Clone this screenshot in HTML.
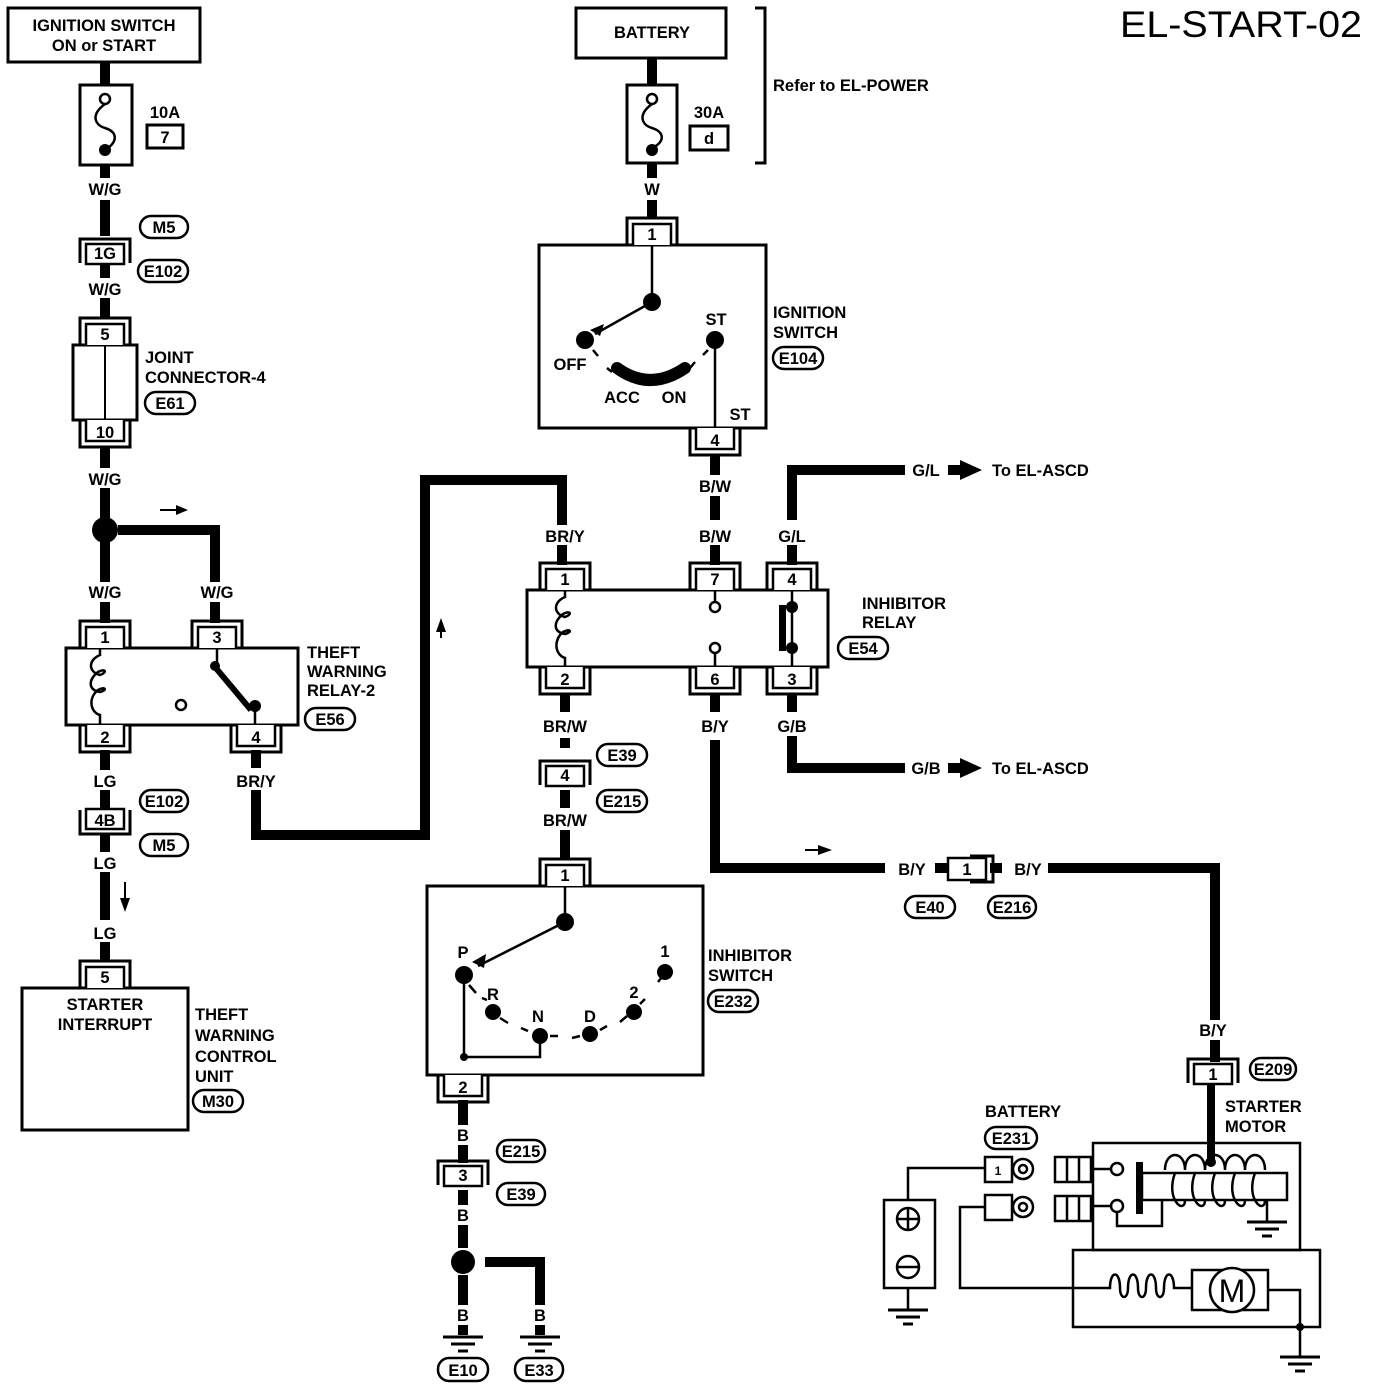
<!DOCTYPE html>
<html><head><meta charset="utf-8"><style>
html,body{margin:0;padding:0;background:#fff}
svg{display:block}
text{font-family:"Liberation Sans",Arial,sans-serif;font-size:16.5px;font-weight:bold;fill:#000}
.c{text-anchor:middle}
</style></head><body>
<svg width="1376" height="1390" viewBox="0 0 1376 1390" xmlns="http://www.w3.org/2000/svg">
<defs>
<g id="ct"><path d="M-25,0 V-27 H25 V0" fill="none" stroke="#000" stroke-width="3"/><path d="M-19,0 V-21 H19 V0" fill="#fff" stroke="#000" stroke-width="2.5"/></g>
<g id="cb"><path d="M-25,0 V27 H25 V0" fill="none" stroke="#000" stroke-width="3"/><path d="M-19,0 V21 H19 V0" fill="#fff" stroke="#000" stroke-width="2.5"/></g>
<g id="cf"><path d="M-25,10 V-14 H25 V10" fill="none" stroke="#000" stroke-width="3"/><rect x="-19" y="-9" width="38" height="20" fill="#fff" stroke="#000" stroke-width="2.5"/></g>
<g id="gnd"><path d="M-20,0 H20 M-12,7 H12 M-5,14 H5" stroke="#000" stroke-width="3"/></g>
</defs>
<text x="1120" y="37" style="font-size:37px;font-weight:normal" textLength="242" lengthAdjust="spacingAndGlyphs">EL-START-02</text>

<g fill="none" stroke="#000" stroke-width="3">
<rect x="8" y="8" width="192" height="54"/>
<rect x="80" y="85" width="52" height="80"/>
<rect x="147" y="125" width="36" height="23"/>
<rect x="73" y="345" width="64" height="75"/>
<line x1="105" y1="345" x2="105" y2="420" stroke-width="2"/>
<rect x="66" y="648" width="232" height="77"/>
<rect x="22" y="988" width="166" height="142"/>
</g>
<text x="104" y="31" class="c">IGNITION SWITCH</text>
<text x="104" y="51" class="c">ON or START</text>
<g stroke="#000" stroke-width="10" fill="none">
<path d="M105,62 V85 M105,165 V178 M105,200 V236 M105,264 V278 M105,298 V318 M105,446 V468 M105,488 V520 M105,540 V582 M105,602 V623"/>
<path d="M118,530 H215 V582 M215,602 V623"/>
<path d="M105,750 V770 M105,790 V808 M105,834 V852 M105,872 V920 M105,942 V962"/>
<path d="M256,750 V768 M256,790 V835 H425 V480 H562 V525 M562,545 V565"/>
</g>
<circle cx="105" cy="530" r="13"/>
<g fill="none" stroke="#000" stroke-width="2.5"><circle cx="105" cy="99" r="5"/><path d="M105,104 C90,115 95,125 105,128 C118,132 118,142 105,150"/></g>
<circle cx="105" cy="150" r="6"/>
<text x="165" y="118" class="c">10A</text>
<text x="165" y="143" class="c">7</text>
<text x="105" y="195" class="c">W/G</text>
<rect x="140" y="216" width="48" height="22" rx="11" fill="#fff" stroke="#000" stroke-width="2.5"/><text x="164" y="233" class="c">M5</text>
<use href="#cf" x="105" y="253"/><text x="105" y="259" class="c">1G</text>
<rect x="138" y="260" width="50" height="22" rx="11" fill="#fff" stroke="#000" stroke-width="2.5"/><text x="163" y="277" class="c">E102</text>
<text x="105" y="295" class="c">W/G</text>
<use href="#ct" x="105" y="345"/><text x="105" y="340" class="c">5</text>
<use href="#cb" x="105" y="420"/><text x="105" y="438" class="c">10</text>
<text x="145" y="363">JOINT</text><text x="145" y="383">CONNECTOR-4</text>
<rect x="145" y="392" width="50" height="22" rx="11" fill="#fff" stroke="#000" stroke-width="2.5"/><text x="170" y="409" class="c">E61</text>
<text x="105" y="485" class="c">W/G</text>
<path d="M160,510 H178" stroke="#000" stroke-width="2"/><path d="M176,505 L188,510 L176,515 Z"/>
<text x="105" y="598" class="c">W/G</text><text x="217" y="598" class="c">W/G</text>
<use href="#ct" x="105" y="648"/><text x="105" y="643" class="c">1</text>
<use href="#ct" x="217" y="648"/><text x="217" y="643" class="c">3</text>
<use href="#cb" x="105" y="725"/><text x="105" y="743" class="c">2</text>
<use href="#cb" x="256" y="725"/><text x="256" y="743" class="c">4</text>
<g fill="none" stroke="#000" stroke-width="2.5">
<path d="M100,648 V655 C88,660 88,672 100,675 C108,672 105,668 98,672 C88,680 88,690 100,692 C108,690 105,686 98,690 C88,698 90,712 100,715 V725"/>
<circle cx="181" cy="705" r="5"/>
<path d="M217,648 V666"/><path d="M255,705 V725"/>
</g>
<path d="M215,667 L251,710" stroke="#000" stroke-width="6"/>
<circle cx="215" cy="666" r="5"/><circle cx="255" cy="706" r="6"/>
<text x="307" y="658">THEFT</text><text x="307" y="677">WARNING</text><text x="307" y="696">RELAY-2</text>
<rect x="305" y="708" width="50" height="22" rx="11" fill="#fff" stroke="#000" stroke-width="2.5"/><text x="330" y="725" class="c">E56</text>
<text x="105" y="787" class="c">LG</text><text x="256" y="787" class="c">BR/Y</text>
<rect x="140" y="790" width="48" height="22" rx="11" fill="#fff" stroke="#000" stroke-width="2.5"/><text x="164" y="807" class="c">E102</text>
<g transform="translate(105,820) scale(1,-1)"><use href="#cf"/></g><text x="105" y="826" class="c">4B</text>
<rect x="140" y="834" width="48" height="22" rx="11" fill="#fff" stroke="#000" stroke-width="2.5"/><text x="164" y="851" class="c">M5</text>
<text x="105" y="869" class="c">LG</text>
<path d="M125,882 V900" stroke="#000" stroke-width="2"/><path d="M120,898 L125,912 L130,898 Z"/>
<text x="105" y="939" class="c">LG</text>
<use href="#ct" x="105" y="988"/><text x="105" y="983" class="c">5</text>
<text x="105" y="1010" class="c">STARTER</text><text x="105" y="1030" class="c">INTERRUPT</text>
<text x="195" y="1020">THEFT</text><text x="195" y="1041">WARNING</text><text x="195" y="1062">CONTROL</text><text x="195" y="1082">UNIT</text>
<rect x="193" y="1090" width="50" height="22" rx="11" fill="#fff" stroke="#000" stroke-width="2.5"/><text x="218" y="1107" class="c">M30</text>
<path d="M441,622 V638" stroke="#000" stroke-width="2"/><path d="M436,632 L441,618 L446,632 Z"/>

<g fill="none" stroke="#000" stroke-width="3">
<rect x="576" y="8" width="150" height="50"/>
<rect x="627" y="85" width="50" height="78"/>
<rect x="690" y="126" width="38" height="24"/>
<path d="M755,8 H765 V163 H755"/>
<rect x="539" y="245" width="227" height="183"/>
<rect x="527" y="590" width="301" height="77"/>
<rect x="427" y="886" width="276" height="189"/>
</g>
<text x="652" y="38" class="c">BATTERY</text>
<g stroke="#000" stroke-width="10" fill="none">
<path d="M652,58 V85 M652,163 V178 M652,200 V218"/>
<path d="M715,454 V475 M715,496 V520 M715,545 V565"/>
<path d="M792,565 V545 M792,520 V470 H905 M948,470 H960"/>
<path d="M565,694 V712 M565,738 V748 M565,790 V808 M565,830 V858"/>
<path d="M715,694 V712 M715,740 V868 H885 M935,868 H948 M990,868 H1002 M1048,868 H1215 V1020 M1215,1040 V1062"/>
<path d="M792,694 V712 M792,736 V768 H905 M948,768 H960"/>
<path d="M463,1100 V1125 M463,1145 V1163 M463,1190 V1205 M463,1225 V1248 M463,1275 V1305 M463,1325 V1335 M485,1262 H540 V1305 M540,1325 V1335"/>
</g>
<circle cx="463" cy="1262" r="12"/>
<path d="M960,460 L982,470 L960,480 Z"/><path d="M960,758 L982,768 L960,778 Z"/>
<g fill="none" stroke="#000" stroke-width="2.5"><circle cx="652" cy="99" r="5"/><path d="M652,104 C637,115 642,125 652,128 C665,132 665,142 652,148"/></g>
<circle cx="652" cy="150" r="6"/>
<text x="709" y="118" class="c">30A</text><text x="709" y="144" class="c">d</text>
<text x="773" y="91">Refer to EL-POWER</text>
<text x="652" y="195" class="c">W</text>
<use href="#ct" x="652" y="245"/><text x="652" y="240" class="c">1</text>
<g fill="none" stroke="#000" stroke-width="2.5">
<path d="M652,245 V300"/><path d="M652,302 L595,334"/>
<path d="M715,340 V428"/>
<path d="M593,350 L598,356 M607,368 L612,372 M690,368 L695,362 M703,355 L708,350"/>
</g>
<path d="M590,330 L604,324 L600,336 Z"/>
<circle cx="652" cy="302" r="9"/><circle cx="585" cy="340" r="9"/><circle cx="715" cy="340" r="9"/>
<path d="M617,368 Q650,392 685,368" fill="none" stroke="#000" stroke-width="12" stroke-linecap="round"/>
<text x="570" y="370" class="c">OFF</text><text x="622" y="403" class="c">ACC</text><text x="674" y="403" class="c">ON</text>
<text x="716" y="325" class="c">ST</text><text x="740" y="420" class="c">ST</text>
<text x="773" y="318">IGNITION</text><text x="773" y="338">SWITCH</text>
<rect x="773" y="347" width="50" height="22" rx="11" fill="#fff" stroke="#000" stroke-width="2.5"/><text x="798" y="364" class="c">E104</text>
<use href="#cb" x="715" y="428"/><text x="715" y="446" class="c">4</text>
<text x="715" y="492" class="c">B/W</text><text x="715" y="542" class="c">B/W</text>
<text x="565" y="542" class="c">BR/Y</text><text x="792" y="542" class="c">G/L</text>
<text x="926" y="476" class="c">G/L</text><text x="992" y="476">To EL-ASCD</text>
<use href="#ct" x="565" y="590"/><text x="565" y="585" class="c">1</text>
<use href="#ct" x="715" y="590"/><text x="715" y="585" class="c">7</text>
<use href="#ct" x="792" y="590"/><text x="792" y="585" class="c">4</text>
<use href="#cb" x="565" y="667"/><text x="565" y="685" class="c">2</text>
<use href="#cb" x="715" y="667"/><text x="715" y="685" class="c">6</text>
<use href="#cb" x="792" y="667"/><text x="792" y="685" class="c">3</text>
<g fill="none" stroke="#000" stroke-width="2.5">
<path d="M565,590 V597 C553,602 553,614 565,617 C573,614 570,610 563,614 C553,622 553,632 565,634 C573,632 570,628 563,632 C553,640 555,655 565,658 V667"/>
<path d="M715,590 V602 M715,653 V667"/><circle cx="715" cy="607" r="5"/><circle cx="715" cy="648" r="5"/>
<path d="M792,590 V667"/>
</g>
<circle cx="792" cy="607" r="6"/><circle cx="792" cy="648" r="6"/>
<rect x="779" y="605" width="7" height="46"/>
<text x="862" y="609">INHIBITOR</text><text x="862" y="628">RELAY</text>
<rect x="838" y="637" width="50" height="22" rx="11" fill="#fff" stroke="#000" stroke-width="2.5"/><text x="863" y="654" class="c">E54</text>
<text x="565" y="732" class="c">BR/W</text><text x="715" y="732" class="c">B/Y</text><text x="792" y="732" class="c">G/B</text>
<text x="926" y="774" class="c">G/B</text><text x="992" y="774">To EL-ASCD</text>
<rect x="597" y="744" width="50" height="22" rx="11" fill="#fff" stroke="#000" stroke-width="2.5"/><text x="622" y="761" class="c">E39</text>
<use href="#cf" x="565" y="775"/><text x="565" y="781" class="c">4</text>
<rect x="597" y="790" width="50" height="22" rx="11" fill="#fff" stroke="#000" stroke-width="2.5"/><text x="622" y="807" class="c">E215</text>
<text x="565" y="826" class="c">BR/W</text>
<path d="M805,850 H820" stroke="#000" stroke-width="2"/><path d="M818,845 L832,850 L818,855 Z"/>
<text x="912" y="875" class="c">B/Y</text><text x="1028" y="875" class="c">B/Y</text>
<path d="M970,856 H993 V882 H970" fill="none" stroke="#000" stroke-width="3"/>
<rect x="948" y="858" width="38" height="22" fill="#fff" stroke="#000" stroke-width="2.5"/><text x="967" y="875" class="c">1</text>
<rect x="905" y="896" width="50" height="22" rx="11" fill="#fff" stroke="#000" stroke-width="2.5"/><text x="930" y="913" class="c">E40</text>
<rect x="988" y="896" width="48" height="22" rx="11" fill="#fff" stroke="#000" stroke-width="2.5"/><text x="1012" y="913" class="c">E216</text>
<use href="#ct" x="565" y="886"/><text x="565" y="881" class="c">1</text>
<g fill="none" stroke="#000" stroke-width="2.5">
<path d="M565,886 V922 M565,922 L478,966"/>
<path d="M464,975 V1057 H540 V1037"/>
<path d="M469,985 L476,993 M482,998 L487,1000 M500,1018 L508,1023 M521,1028 L528,1031 M550,1036 L558,1036 M572,1038 L580,1036 M600,1030 L607,1026 M620,1022 L627,1016 M640,1004 L645,999 M658,982 L662,977"/>
</g>
<path d="M472,962 L486,954 L484,968 Z"/>
<circle cx="565" cy="922" r="9"/><circle cx="464" cy="975" r="9"/><circle cx="493" cy="1012" r="8"/><circle cx="540" cy="1036" r="8"/><circle cx="590" cy="1034" r="8"/><circle cx="634" cy="1012" r="8"/><circle cx="665" cy="972" r="8"/><circle cx="464" cy="1057" r="4"/>
<text x="463" y="958" class="c">P</text><text x="493" y="1000" class="c">R</text><text x="538" y="1022" class="c">N</text><text x="590" y="1022" class="c">D</text><text x="634" y="998" class="c">2</text><text x="665" y="957" class="c">1</text>
<text x="708" y="961">INHIBITOR</text><text x="708" y="981">SWITCH</text>
<rect x="708" y="990" width="50" height="22" rx="11" fill="#fff" stroke="#000" stroke-width="2.5"/><text x="733" y="1007" class="c">E232</text>
<use href="#cb" x="463" y="1075"/><text x="463" y="1093" class="c">2</text>
<text x="463" y="1141" class="c">B</text>
<rect x="497" y="1140" width="48" height="22" rx="11" fill="#fff" stroke="#000" stroke-width="2.5"/><text x="521" y="1157" class="c">E215</text>
<use href="#cf" x="463" y="1175"/><text x="463" y="1181" class="c">3</text>
<rect x="497" y="1183" width="48" height="22" rx="11" fill="#fff" stroke="#000" stroke-width="2.5"/><text x="521" y="1200" class="c">E39</text>
<text x="463" y="1221" class="c">B</text>
<text x="463" y="1321" class="c">B</text><text x="540" y="1321" class="c">B</text>
<use href="#gnd" x="463" y="1337"/><use href="#gnd" x="540" y="1337"/>
<rect x="438" y="1358" width="50" height="23" rx="11" fill="#fff" stroke="#000" stroke-width="2.5"/><text x="463" y="1376" class="c">E10</text>
<rect x="515" y="1358" width="48" height="23" rx="11" fill="#fff" stroke="#000" stroke-width="2.5"/><text x="539" y="1376" class="c">E33</text>

<text x="1213" y="1036" class="c">B/Y</text>
<use href="#cf" x="1213" y="1073"/><text x="1213" y="1080" class="c">1</text>
<rect x="1250" y="1058" width="46" height="22" rx="11" fill="#fff" stroke="#000" stroke-width="2.5"/><text x="1273" y="1075" class="c">E209</text>
<path d="M1211,1085 V1162" stroke="#000" stroke-width="8"/>
<text x="1225" y="1112">STARTER</text><text x="1225" y="1132">MOTOR</text>
<text x="985" y="1117">BATTERY</text>
<rect x="985" y="1127" width="52" height="22" rx="11" fill="#fff" stroke="#000" stroke-width="2.5"/><text x="1011" y="1144" class="c">E231</text>
<g fill="none" stroke="#000" stroke-width="2.5">
<rect x="884" y="1200" width="51" height="88"/>
<circle cx="908" cy="1219" r="11"/><path d="M897,1219 H919 M908,1208 V1230"/>
<circle cx="908" cy="1267" r="11"/><path d="M897,1267 H919"/>
<path d="M908,1200 V1168 H985 M908,1288 V1310"/>
<rect x="985" y="1157" width="27" height="25"/><rect x="985" y="1195" width="27" height="25"/>
<circle cx="1023" cy="1169" r="10"/><circle cx="1023" cy="1169" r="4"/>
<circle cx="1023" cy="1207" r="10"/><circle cx="1023" cy="1207" r="4"/>
<path d="M985,1207 H960 V1288 H1073"/>
<rect x="1055" y="1157" width="36" height="25"/><rect x="1055" y="1196" width="36" height="25"/>
<path d="M1067,1157 V1182 M1079,1157 V1182 M1067,1196 V1221 M1079,1196 V1221"/>
<rect x="1093" y="1143" width="207" height="107"/>
<rect x="1073" y="1250" width="247" height="77"/>
<path d="M1093,1169 H1111 M1093,1206 H1111"/>
<circle cx="1117" cy="1169" r="6"/><circle cx="1117" cy="1206" r="6"/>
<path d="M1117,1212 V1226 H1162 V1199"/>
<rect x="1142" y="1173" width="145" height="27"/>
<path d="M1165,1170 C1165,1150 1185,1150 1185,1170 C1185,1150 1205,1150 1205,1170 C1205,1150 1225,1150 1225,1170 C1225,1150 1245,1150 1245,1170 C1245,1150 1265,1150 1265,1170"/>
<path d="M1175,1173 C1165,1200 1185,1215 1185,1200 M1195,1173 C1185,1200 1205,1215 1205,1200 M1215,1173 C1205,1200 1225,1215 1225,1200 M1235,1173 C1225,1200 1245,1215 1245,1200 M1255,1173 C1245,1200 1265,1215 1265,1200"/>
<path d="M1267,1199 V1222"/>
<path d="M1102,1288 H1110 C1110,1270 1120,1270 1120,1288 C1120,1300 1128,1300 1128,1288 C1128,1270 1138,1270 1138,1288 C1138,1300 1146,1300 1146,1288 C1146,1270 1156,1270 1156,1288 C1156,1300 1164,1300 1164,1288 C1164,1270 1174,1270 1174,1288 H1192"/>
<path d="M1073,1288 H1102"/>
<rect x="1192" y="1270" width="76" height="40"/>
<circle cx="1232" cy="1290" r="22" fill="#fff"/>
<path d="M1268,1290 H1300 V1357"/>
</g>
<text x="998" y="1175" class="c" style="font-size:12px">1</text>
<rect x="1136" y="1162" width="7" height="52"/>
<circle cx="1211" cy="1162" r="5"/>
<circle cx="1300" cy="1327" r="4"/>
<use href="#gnd" x="1267" y="1222"/><use href="#gnd" x="908" y="1310"/><use href="#gnd" x="1300" y="1357"/>
<text x="1232" y="1302" class="c" style="font-size:32px;font-weight:normal">M</text>
</svg>
</body></html>
